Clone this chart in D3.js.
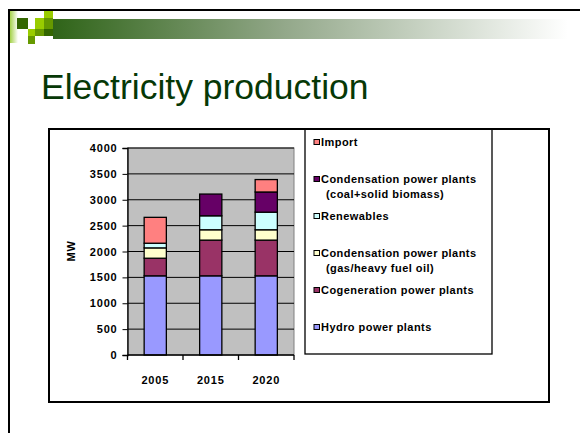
<!DOCTYPE html>
<html>
<head>
<meta charset="utf-8">
<script src="https://cdn.jsdelivr.net/npm/d3@7"></script>
<style>
  body { margin: 0; background: #fff; }
  svg { display: block; font-family: "Liberation Sans", Arial, sans-serif; }
  .tick-label { font-size: 11px; font-weight: bold; letter-spacing: 0.8px; }
  .legend-label { font-size: 11px; font-weight: bold; letter-spacing: 0.45px; }
</style>
</head>
<body>
<div id="chart"></div>
<script>
const years = ['2005', '2015', '2020'];

// stack order, bottom first
const seriesNames = ['Hydro', 'Cogeneration', 'CondGas', 'Renewables', 'CondCoal', 'Import'];
const legendLines = [
  ['Hydro power plants'],
  ['Cogeneration power plants'],
  ['Condensation power plants', '(gas/heavy fuel oil)'],
  ['Renewables'],
  ['Condensation power plants', '(coal+solid biomass)'],
  ['Import']
];
const colorTable = ['#9999FF', '#993366', '#FFFFCC', '#CCFFFF', '#660066', '#FF8080'];

const hydro = [1530, 1530, 1530];
const cogeneration = [340, 690, 690];
const condGas = [200, 200, 200];
const renewables = [90, 270, 340];
const condCoal = [0, 420, 390];
const imports = [500, 0, 240];

const yTicks = [0, 500, 1000, 1500, 2000, 2500, 3000, 3500, 4000];

const width = 580;
const height = 433;
const plot = {left: 127.5, right: 294, top: 148, bottom: 355};

const svg = d3.select("#chart")
  .append("svg")
  .attr("width", width)
  .attr("height", height);

// slide decoration
const defs = svg.append("defs");
const grad = defs.append("linearGradient").attr("id", "bar-grad");
grad.append("stop").attr("offset", "0%").attr("stop-color", "#2f6418");
grad.append("stop").attr("offset", "45%").attr("stop-color", "#93a88a");
grad.append("stop").attr("offset", "100%").attr("stop-color", "#ffffff");
const grad2 = defs.append("linearGradient").attr("id", "strip-grad");
grad2.append("stop").attr("offset", "0%").attr("stop-color", "#99cc33");
grad2.append("stop").attr("offset", "100%").attr("stop-color", "#ffffff");

svg.append("rect").attr("x", 53).attr("y", 19).attr("width", 515).attr("height", 20)
  .attr("fill", "url(#bar-grad)");
svg.append("rect").attr("x", 9).attr("y", 10).attr("width", 9).attr("height", 33)
  .attr("fill", "url(#strip-grad)");

const squares = [
  [17, 18, 11, 11, '#336600'],
  [35, 18, 9, 11, '#99cc00'],
  [44, 11, 9, 7, '#99cc00'],
  [44, 18, 9, 11, '#669900'],
  [28, 29, 7, 7, '#99cc00'],
  [35, 29, 9, 7, '#669900'],
  [44, 29, 9, 7, '#336600'],
  [28, 36, 7, 8, '#669900']
];
svg.selectAll("rect.sq")
  .data(squares)
  .enter()
  .append("rect")
  .attr("class", "sq")
  .attr("x", d => d[0]).attr("y", d => d[1])
  .attr("width", d => d[2]).attr("height", d => d[3])
  .attr("fill", d => d[4]);

svg.append("path").attr("d", "M9,433 V10 H580")
  .attr("fill", "none").attr("stroke", "#000").attr("stroke-width", 2);

svg.append("text")
  .text("Electricity production")
  .attr("x", 41)
  .attr("y", 99)
  .attr("font-size", 35.5)
  .attr("fill", "#063806");

// chart frame
svg.append("rect").attr("x", 49).attr("y", 129).attr("width", 500).attr("height", 273)
  .attr("fill", "#fff").attr("stroke", "#000").attr("stroke-width", 2);

const x = d3.scaleBand()
  .domain(years)
  .range([plot.left, plot.right])
  .paddingInner(0.6)
  .paddingOuter(0.3);

const y = d3.scaleLinear()
  .domain([0, 4000])
  .range([plot.bottom, plot.top]);

const color = d3.scaleOrdinal()
  .domain(seriesNames)
  .range(colorTable);

svg.append("rect")
  .attr("x", plot.left).attr("y", plot.top)
  .attr("width", plot.right - plot.left).attr("height", plot.bottom - plot.top)
  .attr("fill", "#c0c0c0").attr("stroke", "#808080").attr("stroke-width", 1);

svg.append("g")
  .selectAll("line")
  .data(yTicks.slice(1))
  .enter()
  .append("line")
  .attr("x1", plot.left).attr("x2", plot.right)
  .attr("y1", d => y(d)).attr("y2", d => y(d))
  .attr("stroke", "#000").attr("stroke-width", 1);

const table = years.map((yr, i) => ({
  year: yr,
  Hydro: hydro[i],
  Cogeneration: cogeneration[i],
  CondGas: condGas[i],
  Renewables: renewables[i],
  CondCoal: condCoal[i],
  Import: imports[i]
}));

const stacked = d3.stack().keys(seriesNames)(table);

svg.append("g")
  .selectAll("g")
  .data(stacked)
  .enter()
  .append("g")
  .attr("fill", d => color(d.key))
  .selectAll("rect")
  .data(d => d.filter(p => p[1] > p[0]))
  .enter()
  .append("rect")
  .attr("x", d => x(d.data.year))
  .attr("width", x.bandwidth())
  .attr("y", d => y(d[1]))
  .attr("height", d => y(d[0]) - y(d[1]))
  .attr("stroke", "#000")
  .attr("stroke-width", 1.3);

const yAxis = svg.append("g")
  .attr("transform", `translate(${plot.left},0)`)
  .call(d3.axisLeft(y).tickValues(yTicks).tickSize(5).tickPadding(5).tickFormat(d3.format("d")));
yAxis.select(".domain").attr("stroke", "#000").attr("stroke-width", 1.3);
yAxis.selectAll("text").attr("class", "tick-label").attr("fill", "#000").attr("font-family", null);

const xAxis = svg.append("g")
  .attr("transform", `translate(0,${plot.bottom})`);
xAxis.append("line")
  .attr("x1", plot.left).attr("x2", plot.right)
  .attr("stroke", "#000").attr("stroke-width", 1.3);
const bounds = years.map(d => x(d) - x.step() * x.paddingInner() / 2);
bounds[0] = plot.left;
bounds.push(plot.right);
xAxis.selectAll("line.tk")
  .data(bounds)
  .enter()
  .append("line")
  .attr("class", "tk")
  .attr("x1", d => d).attr("x2", d => d)
  .attr("y1", 0).attr("y2", 5)
  .attr("stroke", "#000").attr("stroke-width", 1.3);
xAxis.selectAll("text")
  .data(years)
  .enter()
  .append("text")
  .attr("class", "tick-label")
  .attr("x", d => x(d) + x.bandwidth() / 2)
  .attr("y", 29)
  .attr("text-anchor", "middle")
  .text(d => d);

svg.append("text")
  .attr("class", "tick-label")
  .attr("transform", "translate(75,251) rotate(-90)")
  .attr("text-anchor", "middle")
  .text("MW");

// legend
svg.append("rect").attr("x", 305).attr("y", 129).attr("width", 187).attr("height", 225)
  .attr("fill", "#fff").attr("stroke", "#000").attr("stroke-width", 1.3);
svg.append("line").attr("x1", 49).attr("x2", 549).attr("y1", 129).attr("y2", 129)
  .attr("stroke", "#000").attr("stroke-width", 2);

const legendOrder = d3.range(seriesNames.length).reverse();
const legend = svg.append("g").attr("transform", "translate(314,142)");
const item = legend.selectAll("g")
  .data(legendOrder)
  .enter()
  .append("g")
  .attr("transform", (d, i) => `translate(0,${i * 37})`);
item.append("rect")
  .attr("x", 0).attr("y", -2.5)
  .attr("width", 5.5).attr("height", 5)
  .attr("fill", d => colorTable[d])
  .attr("stroke", "#000").attr("stroke-width", 1);
item.selectAll("text")
  .data(d => legendLines[d])
  .enter()
  .append("text")
  .attr("class", "legend-label")
  .attr("x", (d, j) => j === 0 ? 7 : 12)
  .attr("y", (d, j) => 4 + j * 15)
  .text(d => d);
</script>
</body>
</html>
